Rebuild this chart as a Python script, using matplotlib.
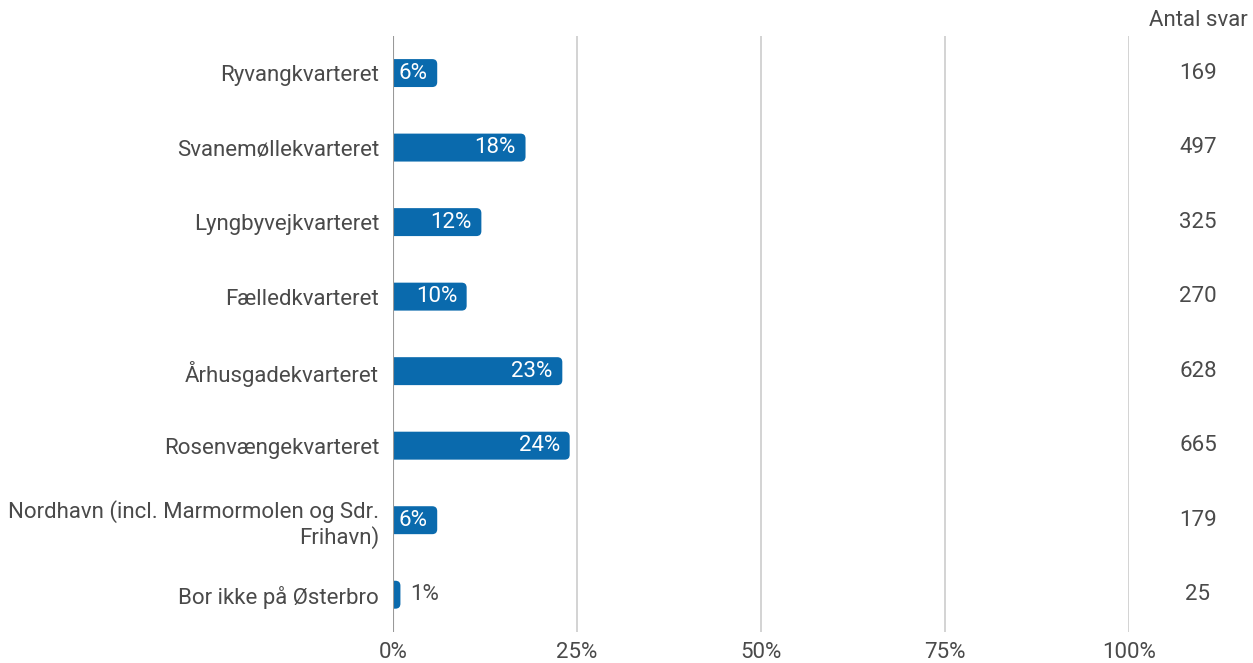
import numpy as np
import matplotlib
matplotlib.use('Agg')
from matplotlib import pyplot as plt
from matplotlib import transforms
from matplotlib.patches import FancyBboxPatch

# data
kvarterer = ['Ryvangkvarteret', 'Svanemøllekvarteret', 'Lyngbyvejkvarteret',
             'Fælledkvarteret', 'Århusgadekvarteret', 'Rosenvængekvarteret',
             'Nordhavn (incl. Marmormolen og Sdr.\nFrihavn)', 'Bor ikke på Østerbro']
andel = [6, 18, 12, 10, 23, 24, 6, 1]
antal_svar = [169, 497, 325, 270, 628, 665, 179, 25]
ticks = [0, 25, 50, 75, 100]

plt.rcParams['font.family'] = ['Roboto', 'DejaVu Sans']
blaa = '#0a6aad'
graa_tekst = '#4a4a4a'
fs = 16

fig = plt.figure(figsize=(12.53, 6.63), dpi=100)
ax = fig.add_axes([0.3137, 0.0468, 0.901 - 0.3137, 0.946 - 0.0468])
ax.set_xlim(0, 100)
ax.set_ylim(len(kvarterer) - 0.5, -0.5)

# runde ender: x-enheder pr. px vs y-enheder pr. px
px_x = 100 / (0.5873 * 1253)
px_y = 8 / (0.8992 * 663)
aspekt = px_y / px_x
r = 5 * px_x
h = 0.375

# kolonnen til højre: x i figurkoordinater, y i data
kolonne = transforms.blended_transform_factory(fig.transFigure, ax.transData)

for i, v in enumerate(andel):
    p = FancyBboxPatch((-3 * r, i - h / 2), v + 3 * r, h,
                       boxstyle='round,pad=0,rounding_size=%f' % r,
                       mutation_aspect=aspekt, fc=blaa, ec='none', zorder=3)
    ax.add_patch(p)
    if v >= 4:
        ax.text(v - 1.3, i, '%d%%' % v, color='white', ha='right', va='center',
                fontsize=fs, zorder=4)
    else:
        ax.text(v + 1.3, i, '%d%%' % v, color=graa_tekst, ha='left', va='center',
                fontsize=fs, zorder=4)
    ax.text(1198 / 1253, i, str(antal_svar[i]), transform=kolonne,
            ha='center', va='center', fontsize=fs, color=graa_tekst)

ax.set_xticks(ticks)
ax.set_xticklabels(['%d%%' % t for t in ticks], fontsize=fs, color=graa_tekst)
ax.set_yticks(range(len(kvarterer)))
ax.set_yticklabels(kvarterer, fontsize=fs, color=graa_tekst, ha='right')
ax.tick_params(axis='x', length=0, pad=7)
ax.tick_params(axis='y', length=0, pad=10)

for t in ticks[1:]:
    ax.axvline(t, color='#cccccc', lw=1.2, zorder=1)
ax.axvline(0, color='#999999', lw=1.5, zorder=5)
for s in ax.spines.values():
    s.set_visible(False)

fig.text(1198 / 1253, 1 - 20 / 663, 'Antal svar', ha='center', va='center',
         fontsize=fs, color=graa_tekst)

fig.savefig('out.png', dpi=100)
